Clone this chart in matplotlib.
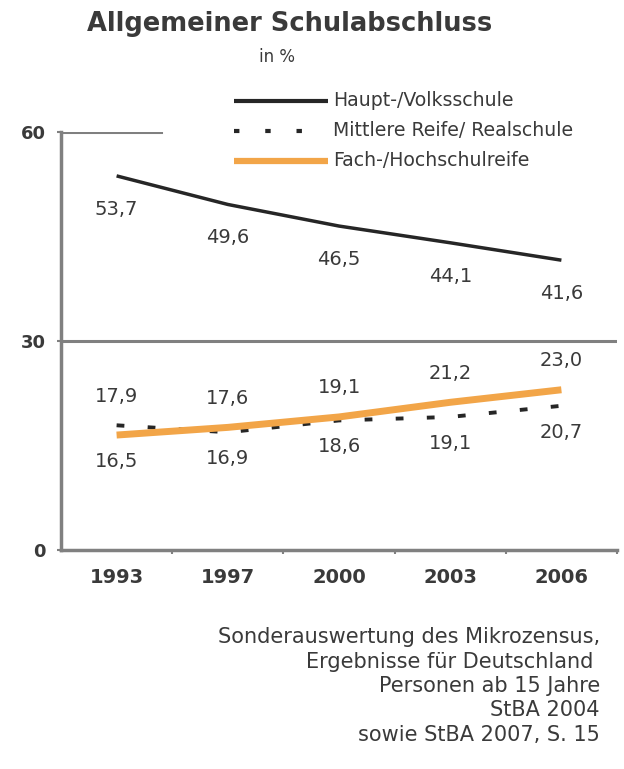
import matplotlib

matplotlib.use("Agg")
import matplotlib.pyplot as plt  # noqa: E402
from matplotlib.lines import Line2D  # noqa: E402

# Daten: Allgemeiner Schulabschluss in %
years = ["1993", "1997", "2000", "2003", "2006"]
hauptschule = [53.7, 49.6, 46.5, 44.1, 41.6]
realschule = [17.9, 16.9, 18.6, 19.1, 20.7]
hochschulreife = [16.5, 17.6, 19.1, 21.2, 23.0]
series_names = ["Haupt-/Volksschule", "Mittlere Reife/ Realschule", "Fach-/Hochschulreife"]
y_ticks = [0, 30, 60]
source_lines = [
    "Sonderauswertung des Mikrozensus,",
    "Ergebnisse für Deutschland ",
    "Personen ab 15 Jahre",
    "StBA 2004",
    "sowie StBA 2007, S. 15",
]

TEXT = "#3a3a3a"
AXIS = "#808080"
ORANGE = "#f2a548"
DARK = "#262626"

plt.rcParams["font.family"] = ["DejaVu Sans"]

fig = plt.figure(figsize=(6.24, 7.69), dpi=100)
ax = fig.add_axes([61 / 624, 1 - 550 / 769, 556 / 624, 418 / 769])

x = list(range(len(years)))

ax.plot(x, hauptschule, color=DARK, lw=2.5, solid_capstyle="butt", zorder=3)
ax.plot(x, realschule, color=DARK, lw=2.8, linestyle=(0, (2, 6)), zorder=3)
ax.plot(x, hochschulreife, color=ORANGE, lw=5, solid_capstyle="butt", zorder=4)


def fmt(v):
    return f"{v:.1f}".replace(".", ",")


# Werte beschriften
for i in x:
    ax.annotate(fmt(hauptschule[i]), (i, hauptschule[i]),
                xytext=(0, -24), textcoords="offset points",
                ha="center", va="center", fontsize=14, color=TEXT)
    upper = max(realschule[i], hochschulreife[i])
    lower = min(realschule[i], hochschulreife[i])
    ax.annotate(fmt(upper), (i, upper),
                xytext=(0, 21), textcoords="offset points",
                ha="center", va="center", fontsize=14, color=TEXT)
    ax.annotate(fmt(lower), (i, lower),
                xytext=(0, -19), textcoords="offset points",
                ha="center", va="center", fontsize=14, color=TEXT)

ax.set_xlim(-0.5, len(years) - 0.5)
ax.set_ylim(0, 60)

# Rasterlinien
ax.axhline(30, color=AXIS, lw=2.2, zorder=1)
ax.axhline(60, xmin=0, xmax=0.18, color=AXIS, lw=2.2, zorder=1)

for side in ["top", "right"]:
    ax.spines[side].set_visible(False)
for side in ["left", "bottom"]:
    ax.spines[side].set_color(AXIS)
    ax.spines[side].set_linewidth(2.5)

ax.set_yticks(y_ticks)
ax.set_yticklabels([str(v) for v in y_ticks], fontsize=13, fontweight="bold", color=TEXT)
ax.tick_params(axis="y", length=3, width=1.5, color=AXIS, pad=8)

ax.set_xticks([i + 0.5 for i in x])
ax.set_xticklabels([])
ax.tick_params(axis="x", which="major", length=3, width=1.5, color=AXIS)
ax.set_xticks(x, minor=True)
ax.set_xticklabels(years, minor=True, fontsize=14, fontweight="bold", color=TEXT)
ax.tick_params(axis="x", which="minor", length=0, pad=13)

# Titel
fig.text(290 / 624, 1 - 24 / 769, "Allgemeiner Schulabschluss", ha="center", va="center",
         fontsize=18.5, fontweight="bold", color=TEXT)
fig.text(277 / 624, 1 - 57 / 769, "in %", ha="center", va="center", fontsize=12, color=TEXT)

# Legende
legend_styles = [
    dict(color=DARK, lw=3),
    dict(color=DARK, lw=3, linestyle=(0, (1.3, 6.2))),
    dict(color=ORANGE, lw=4.5),
]
legend_ends = [328, 303, 328]
for row, (name, style) in enumerate(zip(series_names, legend_styles)):
    y = 1 - (101 + row * 30) / 769
    fig.add_artist(Line2D([234 / 624, legend_ends[row] / 624], [y, y],
                          transform=fig.transFigure, solid_capstyle="butt", **style))
    fig.text(333 / 624, y, name, ha="left", va="center", fontsize=13.6, color=TEXT)

# Quelle
for k, line in enumerate(source_lines):
    fig.text(600 / 624, 1 - (637 + k * 24.5) / 769, line, ha="right", va="center",
             fontsize=15, color=TEXT)

fig.savefig("out.png", dpi=100, facecolor="white")
